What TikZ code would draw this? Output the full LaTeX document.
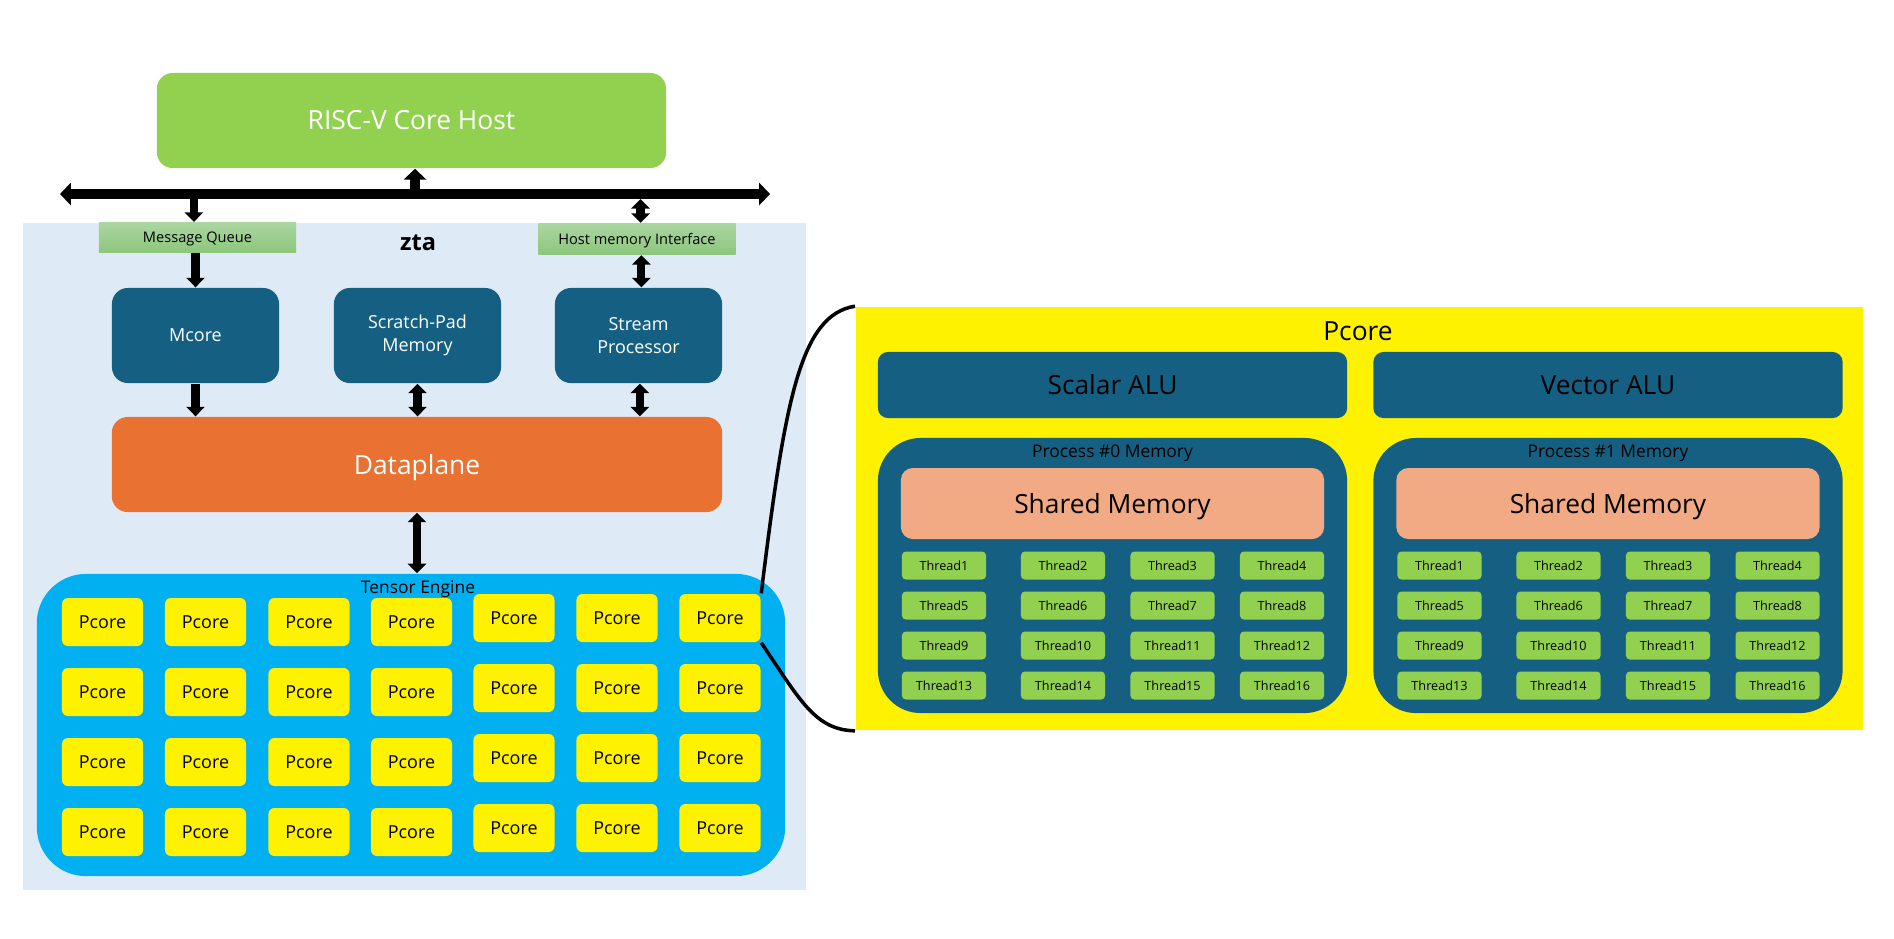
\documentclass[tikz,border=0pt]{standalone}
\usepackage{fontspec}
\setmainfont{Open Sans}
\usetikzlibrary{arrows.meta}

\definecolor{hostgreen}{HTML}{92D050}
\definecolor{ztabg}{HTML}{DEEBF7}
\definecolor{mqtop}{HTML}{AAD6A1}
\definecolor{mqbot}{HTML}{8CC67C}
\definecolor{darkteal}{HTML}{156082}
\definecolor{dporange}{HTML}{E97132}
\definecolor{tecyan}{HTML}{00B0F0}
\definecolor{shmem}{HTML}{F2AA84}

\newcommand{\fbig}{\fontsize{7.5}{9}\selectfont}
\newcommand{\fmid}{\fontsize{5.1}{6.5}\selectfont}
\newcommand{\flabel}{\fontsize{4.95}{6}\selectfont}
\newcommand{\fsmall}{\fontsize{4.15}{5}\selectfont}
\newcommand{\fthread}{\fontsize{3.6}{4.5}\selectfont}

\tikzset{
  blk/.style={inner sep=0pt, align=center, rounded corners=4.5pt},
  unit/.style={blk, fill=darkteal, text=white, font=\fmid,
    minimum width=1.67cm, minimum height=0.95cm},
  iface/.style={inner sep=0pt, top color=mqtop, bottom color=mqbot,
    font=\fsmall, text depth=0pt, minimum width=1.97cm, minimum height=0.30cm},
  pcore/.style={blk, rounded corners=1.7pt, fill=yellow, font=\fmid,
    minimum width=0.81cm, minimum height=0.48cm},
  alu/.style={blk, rounded corners=2.85pt, fill=darkteal, font=\fbig,
    minimum width=4.69cm, minimum height=0.66cm},
  procbox/.style={blk, rounded corners=12.2pt, fill=darkteal,
    minimum width=4.69cm, minimum height=2.75cm},
  shared/.style={blk, rounded corners=3.4pt, fill=shmem, font=\fbig,
    text depth=0pt, minimum width=4.23cm, minimum height=0.71cm},
  thread/.style={blk, rounded corners=1.1pt, fill=hostgreen, font=\fthread,
    minimum width=0.84cm, minimum height=0.28cm},
  arr/.style={line width=2.3pt, -{Triangle[width=5.2pt,length=2.7pt]}},
  darr/.style={line width=2.3pt, {Triangle[width=5.2pt,length=2.7pt]}-{Triangle[width=5.2pt,length=2.7pt]}},
  busarr/.style={line width=2.85pt, -{Triangle[width=6.3pt,length=3.1pt]}},
}

\begin{document}
\begin{tikzpicture}[x=0.01cm, y=-0.01cm]
\useasboundingbox (0,0) rectangle (1894,938);

\node[inner sep=0pt, fill=ztabg, minimum width=7.83cm, minimum height=6.67cm] (zta) at (414.5,556.5) {};
\node[font=\bfseries\fontsize{6.7}{8}\selectfont] (ztatitle) at (418,243) {zta};

\node[blk, fill=hostgreen, text=white, font=\fbig, minimum width=5.09cm, minimum height=0.95cm] (host) at (411.5,120.5) {RISC-V Core Host};

% bus
\coordinate (busL) at (60,194);
\coordinate (busR) at (770,194);
\coordinate (busB) at (0,199);
\draw[line width=2.85pt, {Triangle[width=6.3pt,length=3.1pt]}-{Triangle[width=6.3pt,length=3.1pt]}] (busL) -- (busR);

\node[iface] (mq) at (197.5,237.5) {Message Queue};
\node[iface, minimum height=0.31cm] (hmi) at (637,239) {Host memory Interface};

\node[unit] (mcore) at (195.5,335.5) {Mcore};
\node[unit] (spm) at (417.5,335.5) {Scratch-Pad\\Memory};
\node[unit] (sp) at (638.5,335.5) {Stream\\Processor};

\node[blk, fill=dporange, text=white, font=\fbig, text depth=0pt, minimum width=6.10cm, minimum height=0.95cm] (dp) at (417,464.5) {Dataplane};

\node[blk, rounded corners=14pt, fill=tecyan, minimum width=7.48cm, minimum height=3.02cm] (te) at (411,725) {};
\node[font=\flabel, text depth=0pt] (tetitle) at (418,587) {Tensor Engine};

\foreach \c/\x/\y in {1/102.5/622, 2/205.5/622, 3/309/622, 4/411.5/622, 5/514/618, 6/617/618, 7/720/618}
  \foreach \r in {0,...,3}
    \node[pcore] (pc-\r-\c) at (\x,\y+70*\r) {Pcore};

\draw[busarr] ([xshift=1pt]host.south |- busL) -- ([xshift=1pt]host.south);
\draw[arr] ([xshift=-1pt]mq.north |- busB) -- ([xshift=-1pt]mq.north);
\draw[darr] ([xshift=1pt]hmi.north |- busB) -- ([xshift=1pt]hmi.north);
\draw[arr] (mq.south -| mcore.north) -- (mcore.north);
\draw[darr] ([xshift=0.8pt]hmi.south -| sp.north) -- ([xshift=0.8pt]sp.north);
\draw[arr] (mcore.south) -- (mcore.south |- dp.north);
\draw[darr] (spm.south) -- (spm.south |- dp.north);
\draw[darr] ([xshift=0.4pt]sp.south) -- ([xshift=0.4pt]sp.south |- dp.north);
\draw[darr] (dp.south) -- (dp.south |- te.north);

% zoomed Pcore
\node[inner sep=0pt, fill=yellow, minimum width=10.07cm, minimum height=4.23cm] (pz) at (1359.5,518.5) {};
\node[font=\fbig, text depth=0pt] (pztitle) at (1358,331) {Pcore};
\node[alu] (salu) at (1112.5,385) {Scalar ALU};
\node[alu] (valu) at (1608,385) {Vector ALU};

\foreach \p/\cx in {0/1112.5, 1/1608} {
  \node[procbox] (proc\p) at (\cx,575.5) {};
  \node[font=\flabel, text depth=0pt] (proc\p-title) at (\cx,451) {Process \#\p\ Memory};
  \node[shared] (shm\p) at (\cx,503.5) {Shared Memory};
  \foreach \r in {0,...,3}
    \foreach \c/\dx in {1/-168.5, 2/-49.5, 3/60, 4/169.5} {
      \pgfmathtruncatemacro\n{4*\r+\c}
      \node[thread] (t\p-\n) at (\cx+\dx,565.5+40*\r) {Thread\n};
    }
}

\draw[line width=1pt] (pc-0-7.north east) .. controls (785,400) and (800,315) .. (pz.north west);
\draw[line width=1pt] (pc-0-7.south east) .. controls (800,700) and (815,730) .. (pz.south west);

\end{tikzpicture}
\end{document}
